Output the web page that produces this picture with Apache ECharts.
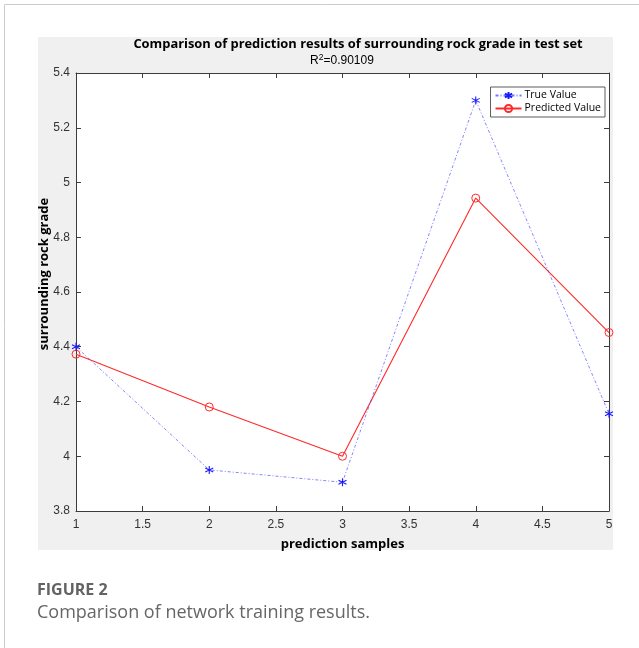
<!DOCTYPE html>
<html>
<head>
<meta charset="utf-8">
<script src="https://cdn.jsdelivr.net/npm/echarts@6/dist/echarts.min.js"></script>
<style>
html,body{margin:0;padding:0;background:#fff;}
#chart{width:639px;height:648px;}
</style>
</head>
<body>
<div id="chart"></div>
<script>
const samples = [1, 2, 3, 4, 5];
const trueValues = [4.40, 3.95, 3.905, 5.30, 4.155];
const predictedValues = [4.373, 4.18, 4.0, 4.943, 4.452];
const xTicks = [1, 1.5, 2, 2.5, 3, 3.5, 4, 4.5, 5];
const yTicks = [3.8, 4, 4.2, 4.4, 4.6, 4.8, 5, 5.2, 5.4];

const chart = echarts.init(document.getElementById('chart'), null, {renderer: 'canvas'});
const axisColor = '#3c3c3c';
const star = 'path://M0,-5L0,5M-4.33,-2.5L4.33,2.5M-4.33,2.5L4.33,-2.5';

const trueData = samples.map((s, i) => [s, trueValues[i]]);
const predData = samples.map((s, i) => [s, predictedValues[i]]);

const option = {
  animation: false,
  backgroundColor: '#ffffff',
  graphic: [
    {type: 'line', shape: {x1: 4.5, y1: 4.5, x2: 639, y2: 4.5}, style: {stroke: '#cccccc', lineWidth: 1}, z: -10},
    {type: 'line', shape: {x1: 4.5, y1: 4.5, x2: 4.5, y2: 648}, style: {stroke: '#cccccc', lineWidth: 1}, z: -10},
    {type: 'rect', shape: {x: 38, y: 37, width: 575, height: 513}, style: {fill: '#f0f0f0'}, z: -9, silent: true},
    {type: 'text', x: 358, y: 44, style: {text: 'Comparison of prediction results of surrounding rock grade in test set', font: 'bold 12.9px "Open Sans", "Noto Sans", sans-serif', fill: '#000', textAlign: 'center', textVerticalAlign: 'middle'}},
    {type: 'text', x: 342, y: 61, style: {text: '{a|R}{s|2}{a|=0.90109}', rich: {a: {fontFamily: '"Liberation Sans", Arial, sans-serif', fontSize: 12, color: '#1a1a1a', lineHeight: 16}, s: {fontFamily: '"Liberation Sans", Arial, sans-serif', fontSize: 8.5, color: '#1a1a1a', lineHeight: 16, verticalAlign: 'top', padding: [0, 0, 5, 0]}}, textAlign: 'center', textVerticalAlign: 'middle'}},
    {type: 'text', x: 44, y: 274, rotation: Math.PI / 2, style: {text: 'surrounding rock grade', font: 'bold 13px "Open Sans", "Noto Sans", sans-serif', fill: '#000', textAlign: 'center', textVerticalAlign: 'middle'}},
    {type: 'text', x: 37, y: 590, style: {text: 'FIGURE 2', font: 'bold 16px "Open Sans", "Noto Sans", sans-serif', fill: '#636363', textVerticalAlign: 'middle'}},
    {type: 'text', x: 37, y: 613, style: {text: 'Comparison of network training results.', font: '18px "Open Sans", "Noto Sans", sans-serif', fill: '#666666', textVerticalAlign: 'middle'}}
  ],
  grid: {left: 76, top: 73, right: 30, bottom: 137, containLabel: false, show: true, backgroundColor: '#ffffff', borderWidth: 0},
  legend: {
    right: 34, top: 87, orient: 'vertical', itemGap: 2, itemWidth: 26, itemHeight: 9,
    padding: [3, 4, 3, 4],
    backgroundColor: '#ffffff', borderColor: '#333', borderWidth: 0.8, borderRadius: 0,
    textStyle: {fontFamily: '"Open Sans", "Noto Sans", sans-serif', fontSize: 10.5, color: '#000', padding: [0,0,0,-2]},
    data: ['True Value', 'Predicted Value']
  },
  xAxis: [
    {type: 'value', min: 1, max: 5, interval: 0.5, position: 'bottom',
     name: 'prediction samples', nameLocation: 'middle', nameGap: 27,
     nameTextStyle: {fontFamily: '"Open Sans", "Noto Sans", sans-serif', fontWeight: 'bold', fontSize: 13, color: '#000'},
     axisLine: {show: true, onZero: false, lineStyle: {color: axisColor, width: 1}},
     axisTick: {show: true, inside: true, length: 5, lineStyle: {color: axisColor}},
     axisLabel: {show: true, margin: 8, fontFamily: '"Liberation Sans", Arial, sans-serif', fontSize: 12, color: '#333',
       formatter: v => String(+v.toFixed(1))},
     splitLine: {show: false}},
    {type: 'value', min: 1, max: 5, interval: 0.5, position: 'top',
     axisLine: {show: true, onZero: false, lineStyle: {color: axisColor, width: 1}},
     axisTick: {show: true, inside: true, length: 5, lineStyle: {color: axisColor}},
     axisLabel: {show: false}, splitLine: {show: false}}
  ],
  yAxis: [
    {type: 'value', min: 3.8, max: 5.4, interval: 0.2, position: 'left',
     axisLine: {show: true, onZero: false, lineStyle: {color: axisColor, width: 1}},
     axisTick: {show: true, inside: true, length: 5, lineStyle: {color: axisColor}},
     axisLabel: {show: true, margin: 6, fontFamily: '"Liberation Sans", Arial, sans-serif', fontSize: 12, color: '#333',
       formatter: v => String(+v.toFixed(1))},
     splitLine: {show: false}},
    {type: 'value', min: 3.8, max: 5.4, interval: 0.2, position: 'right',
     axisLine: {show: true, onZero: false, lineStyle: {color: axisColor, width: 1}},
     axisTick: {show: true, inside: true, length: 5, lineStyle: {color: axisColor}},
     axisLabel: {show: false}, splitLine: {show: false}}
  ],
  series: [
    {name: 'True Value', type: 'line', data: trueData, xAxisIndex: 0, yAxisIndex: 0,
     symbol: star, symbolSize: 8, showAllSymbol: true,
     lineStyle: {color: 'rgba(60,60,255,0.7)', width: 0.9, type: [3, 2, 1, 2]},
     itemStyle: {color: 'rgba(0,0,0,0)', borderColor: '#1a1aff', borderWidth: 1.1},
     z: 3},
    {name: 'Predicted Value', type: 'line', data: predData, xAxisIndex: 0, yAxisIndex: 0,
     symbol: 'circle', symbolSize: 8, showAllSymbol: true,
     lineStyle: {color: '#ff2a2a', width: 1.1},
     itemStyle: {color: 'rgba(255,255,255,0)', borderColor: '#ff2a2a', borderWidth: 1},
     z: 2}
  ]
};
chart.setOption(option);
</script>
</body>
</html>
